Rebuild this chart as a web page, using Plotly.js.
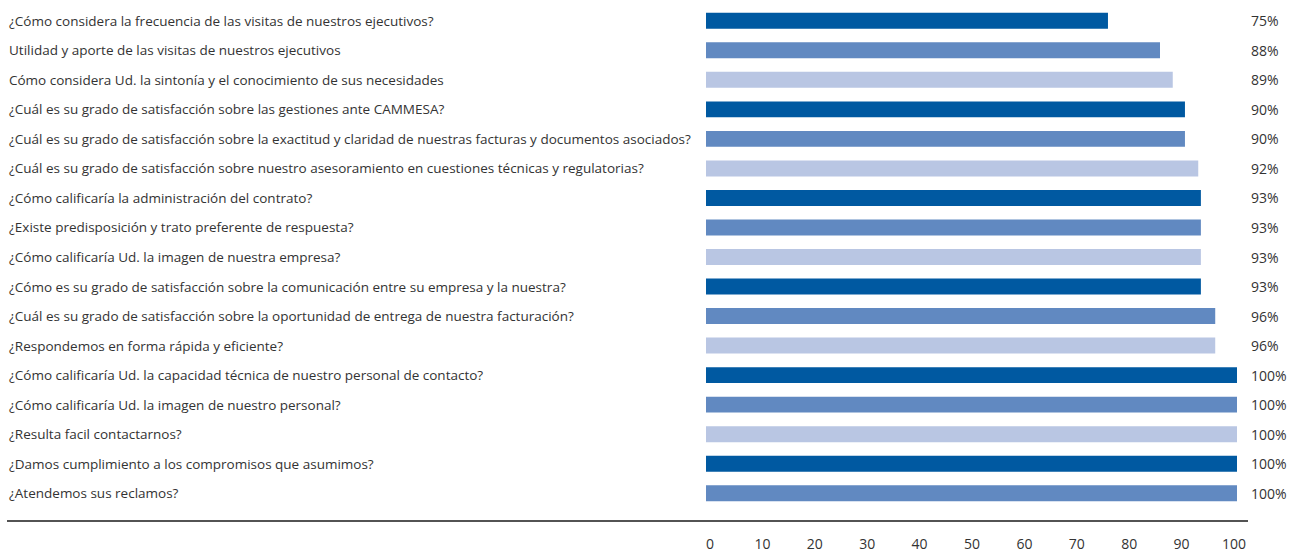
<!DOCTYPE html>
<html>
<head>
<meta charset="utf-8">
<script src="https://cdn.plot.ly/plotly-3.0.1.min.js"></script>
<style>html,body{margin:0;padding:0;background:#fff;}#chart{width:1291px;height:552px;}</style>
</head>
<body>
<div id="chart"></div>
<script>
const questions = [
  "¿Cómo considera la frecuencia de las visitas de nuestros ejecutivos?",
  "Utilidad y aporte de las visitas de nuestros ejecutivos",
  "Cómo considera Ud. la sintonía y el conocimiento de sus necesidades",
  "¿Cuál es su grado de satisfacción sobre las gestiones ante CAMMESA?",
  "¿Cuál es su grado de satisfacción sobre la exactitud y claridad de nuestras facturas y documentos asociados?",
  "¿Cuál es su grado de satisfacción sobre nuestro asesoramiento en cuestiones técnicas y regulatorias?",
  "¿Cómo calificaría la administración del contrato?",
  "¿Existe predisposición y trato preferente de respuesta?",
  "¿Cómo calificaría Ud. la imagen de nuestra empresa?",
  "¿Cómo es su grado de satisfacción sobre la comunicación entre su empresa y la nuestra?",
  "¿Cuál es su grado de satisfacción sobre la oportunidad de entrega de nuestra facturación?",
  "¿Respondemos en forma rápida y eficiente?",
  "¿Cómo calificaría Ud. la capacidad técnica de nuestro personal de contacto?",
  "¿Cómo calificaría Ud. la imagen de nuestro personal?",
  "¿Resulta facil contactarnos?",
  "¿Damos cumplimiento a los compromisos que asumimos?",
  "¿Atendemos sus reclamos?"
];
// bar lengths as drawn
const barValues = [75.7, 85.5, 87.9, 90.2, 90.2, 92.7, 93.2, 93.2, 93.2, 93.2, 95.9, 95.9, 100, 100, 100, 100, 100];
// printed percentages
const pctLabels = ["75%", "88%", "89%", "90%", "90%", "92%", "93%", "93%", "93%", "93%", "96%", "96%", "100%", "100%", "100%", "100%", "100%"];
const tickVals = [0, 10, 20, 30, 40, 50, 60, 70, 80, 90, 100];

const palette = ["#0059a1", "#6189c1", "#b9c6e3"];
const barColors = questions.map((q, i) => palette[i % 3]);

const W = 1291, L = 706, R = 1291 - 1237;
const plotW = W - L - R;
const px = v => (v - L) / plotW;
const T = 6, B = 44, plotH = 552 - T - B;
const py = v => (552 - B - v) / plotH;

const textFont = {family: "Open Sans, Noto Sans, sans-serif", size: 13.5, color: "#333333"};

const traces = [
  {
    type: "bar", orientation: "h",
    x: barValues, y: questions,
    marker: {color: barColors, line: {width: 0}},
    hoverinfo: "skip", showlegend: false
  },
  {
    type: "scatter", mode: "markers",
    x: [0, 100], y: [questions[0], questions[0]],
    xaxis: "x2", yaxis: "y",
    marker: {opacity: 0}, hoverinfo: "skip", showlegend: false
  }
];

const annotations = [];
questions.forEach((q, i) => {
  annotations.push({
    xref: "paper", yref: "y", x: px(7), y: q, xanchor: "left", yanchor: "middle",
    text: q, showarrow: false, font: textFont
  });
  annotations.push({
    xref: "paper", yref: "y", x: px(1249), y: q, xanchor: "left", yanchor: "middle",
    text: pctLabels[i], showarrow: false, font: {family: textFont.family, size: 14, color: "#333333"}
  });
});

const layout = {
  width: 1291, height: 552,
  margin: {l: L, r: R, t: T, b: B, pad: 0},
  paper_bgcolor: "#ffffff", plot_bgcolor: "rgba(0,0,0,0)",
  bargap: 0.46,
  xaxis: {range: [0, 100], showgrid: false, zeroline: false, showticklabels: false, showline: false, ticks: ""},
  xaxis2: {
    domain: [px(710), px(1234)], range: [0, 100], anchor: "free", position: 0,
    tickvals: tickVals, ticktext: tickVals.map(String),
    showgrid: false, zeroline: false, showline: false, ticks: "",
    tickfont: {family: textFont.family, size: 14, color: "#333333"},
    ticklabelstandoff: 26
  },
  yaxis: {
    type: "category", categoryorder: "array", categoryarray: questions,
    range: [questions.length - 0.5, -0.5],
    showticklabels: false, showgrid: false, zeroline: false, showline: false, ticks: ""
  },
  annotations: annotations,
  shapes: [{
    type: "line", xref: "paper", yref: "paper",
    x0: px(7), x1: px(1248), y0: py(521), y1: py(521),
    line: {color: "#1a1a1a", width: 1.5}
  }]
};

Plotly.newPlot("chart", traces, layout, {displayModeBar: false, staticPlot: true});
</script>
</body>
</html>
